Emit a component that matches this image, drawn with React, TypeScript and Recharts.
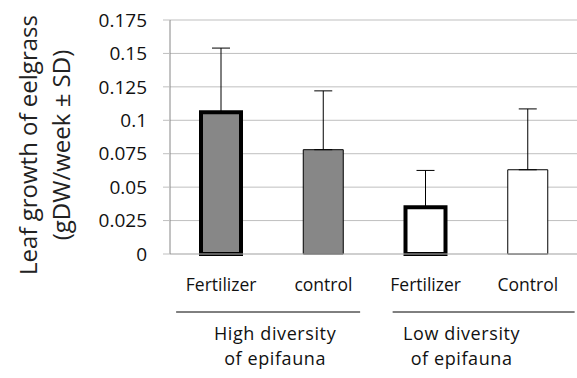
import {BarChart, Bar, XAxis, YAxis, CartesianGrid, ErrorBar, Cell} from 'recharts'

// treatments, in order on the x axis
const categories = ["Fertilizer", "control", "Fertilizer", "Control"]
// mean leaf growth (gDW/week)
const means = [0.106, 0.078, 0.035, 0.063]
// standard deviation, drawn upward only
const sds = [0.048, 0.044, 0.0275, 0.0455]
const yTicks = [0, 0.025, 0.05, 0.075, 0.1, 0.125, 0.15, 0.175]
const groupLabels = [
    ["High diversity", "of epifauna"],
    ["Low diversity", "of epifauna"],
]

const data = categories.map((name, i) => ({
    name,
    value: means[i],
    err: [0, sds[i]],
}))

// look of each bar
const barStyles = [
    {fill: "#878787", stroke: "#000", strokeWidth: 4},
    {fill: "#878787", stroke: "#000", strokeWidth: 1},
    {fill: "#ffffff", stroke: "#000", strokeWidth: 4},
    {fill: "#ffffff", stroke: "#000", strokeWidth: 1},
]
// where the group rule and caption sit, relative to the group's first tick
const groupLayout = [
    {from: -45, to: 139, mid: 54},
    {from: -33, to: 149, mid: 36},
]

const font = "'Open Sans', sans-serif"

function CategoryTick(props: any) {
    const {x, y, payload, index} = props
    const g = index % 2 === 0 ? index / 2 : -1
    return (
        <g>
            <text x={x} y={y + 37} textAnchor="middle" fontSize={17.5} fontFamily={font} fill="#111">
                {payload.value}
            </text>
            {g >= 0 && (
                <g>
                    <line x1={x + groupLayout[g].from} x2={x + groupLayout[g].to} y1={y + 58} y2={y + 58}
                          stroke="#000" strokeWidth={1}/>
                    <text x={x + groupLayout[g].mid} y={y + 86} textAnchor="middle" fontSize={18}
                          letterSpacing={0.6} fontFamily={font} fill="#111">{groupLabels[g][0]}</text>
                    <text x={x + groupLayout[g].mid} y={y + 111} textAnchor="middle" fontSize={18}
                          letterSpacing={0.6} fontFamily={font} fill="#111">{groupLabels[g][1]}</text>
                </g>
            )}
        </g>
    )
}

function YLabel() {
    const cy = 145
    return (
        <g fontFamily={font} fontSize={24} fill="#222">
            <text x={37} y={cy} textAnchor="middle" transform={`rotate(-90, 37, ${cy})`}>
                Leaf growth of eelgrass
            </text>
            <text x={70} y={cy} textAnchor="middle" transform={`rotate(-90, 70, ${cy})`}>
                (gDW/week ± SD)
            </text>
        </g>
    )
}

export default function App() {
    return (
        <div style={{position: "absolute", left: 0, top: 0, width: 577, height: 378, overflow: "hidden", background: "#fff"}}>
            <BarChart width={580} height={378} data={data} margin={{top: 20, right: 1, bottom: 0, left: 0}}>
                <CartesianGrid vertical={false} stroke="#bfbfbf"/>
                <XAxis dataKey="name" height={124} tickLine={false} tickSize={0} tickMargin={0}
                       axisLine={{stroke: "#bfbfbf"}} tick={<CategoryTick/>} interval={0}/>
                <YAxis width={170} domain={[0, 0.175]} ticks={yTicks} tickSize={7} tickMargin={16}
                       axisLine={{stroke: "#868686"}} tickLine={{stroke: "#bfbfbf"}}
                       tick={{fontSize: 19, fontFamily: font, fill: "#111"}}
                       tickFormatter={(v: number) => String(v)}
                       label={<YLabel/>}/>
                <Bar dataKey="value" barSize={40} isAnimationActive={false}>
                    {data.map((d, i) => (
                        <Cell key={i} fill={barStyles[i].fill} stroke={barStyles[i].stroke}
                              strokeWidth={barStyles[i].strokeWidth}/>
                    ))}
                    <ErrorBar dataKey="err" width={9} stroke="#000" strokeWidth={1} direction="y"/>
                </Bar>
            </BarChart>
        </div>
    )
}
